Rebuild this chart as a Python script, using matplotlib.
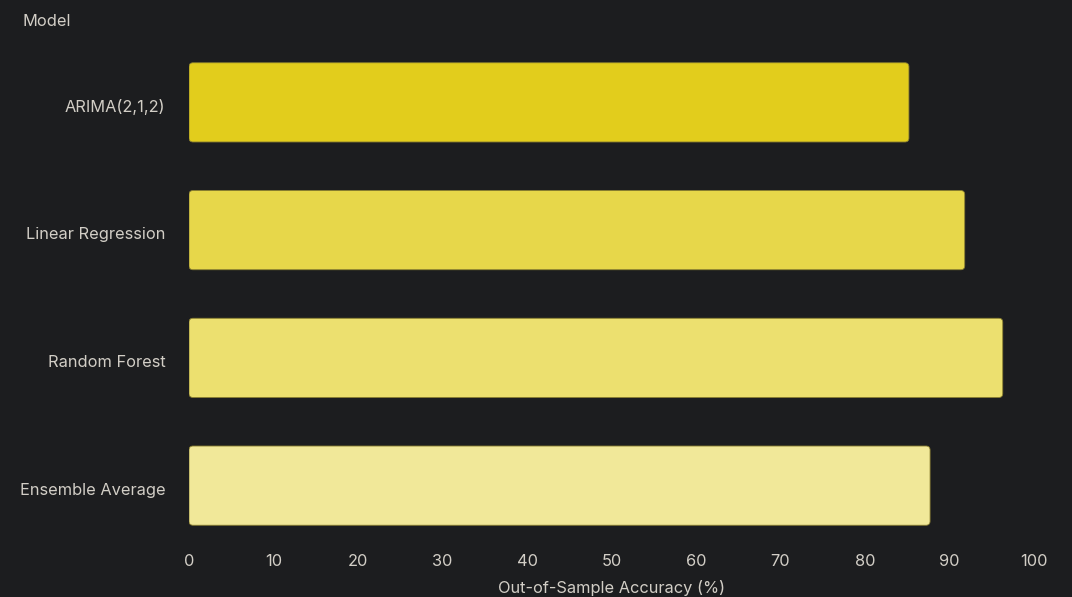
import matplotlib
matplotlib.use("Agg")
import matplotlib.pyplot as plt
import matplotlib.transforms as mtransforms
from matplotlib.patches import FancyBboxPatch

models = ["ARIMA(2,1,2)", "Linear Regression", "Random Forest", "Ensemble Average"]
accuracy = [85.2, 91.8, 96.3, 87.7]
colors = ["#e2cd1c", "#e7d74a", "#ece06f", "#f1e899"]
xticks = [0, 10, 20, 30, 40, 50, 60, 70, 80, 90, 100]

bg = "#1c1d1f"
txt = "#d2cec6"
plt.rcParams['font.family'] = ['Inter', 'DejaVu Sans']

fig = plt.figure(figsize=(10.72, 5.97), dpi=100, facecolor=bg)
ax = fig.add_axes([189/1072, 1-549.5/597, (1034-189)/1072, (549.5-38.5)/597])
ax.set_facecolor(bg)

ypos = list(range(len(models)))
bars = ax.barh(ypos, accuracy, height=0.62, color=colors)
ax.set_xlim(0, 100)
ax.set_ylim(len(models)-0.5, -0.5)

# replace with rounded bars
px_x = (1034-189)/100.0
px_y = 128.0
r = 4.0
for b, c in zip(bars, colors):
    x0, y0 = b.get_x(), b.get_y()
    w, h = b.get_width(), b.get_height()
    b.remove()
    p = FancyBboxPatch((x0, y0), w, h,
                       boxstyle=f"round,pad=0,rounding_size={r/px_x}",
                       mutation_aspect=(px_x/px_y),
                       facecolor=c, edgecolor="#8a7f30", linewidth=0.6)
    ax.add_patch(p)

ax.set_yticks(ypos)
ax.set_yticklabels(models)
ax.set_xticks(xticks)
ax.tick_params(axis='both', length=0, colors=txt, labelsize=11.8)
ax.tick_params(axis='y', pad=17)
ax.tick_params(axis='x', pad=3.5)
offset = mtransforms.ScaledTranslation(0, -3/100, fig.dpi_scale_trans)
for lbl in ax.get_yticklabels():
    lbl.set_transform(lbl.get_transform() + offset)
for s in ax.spines.values():
    s.set_visible(False)
ax.set_xlabel("Out-of-Sample Accuracy (%)", color=txt, fontsize=11.8, labelpad=8)
fig.text(22/1072, 1-21/597, "Model", color=txt, fontsize=11.8, ha='left', va='center')

fig.savefig("out.png", dpi=100, facecolor=bg)
